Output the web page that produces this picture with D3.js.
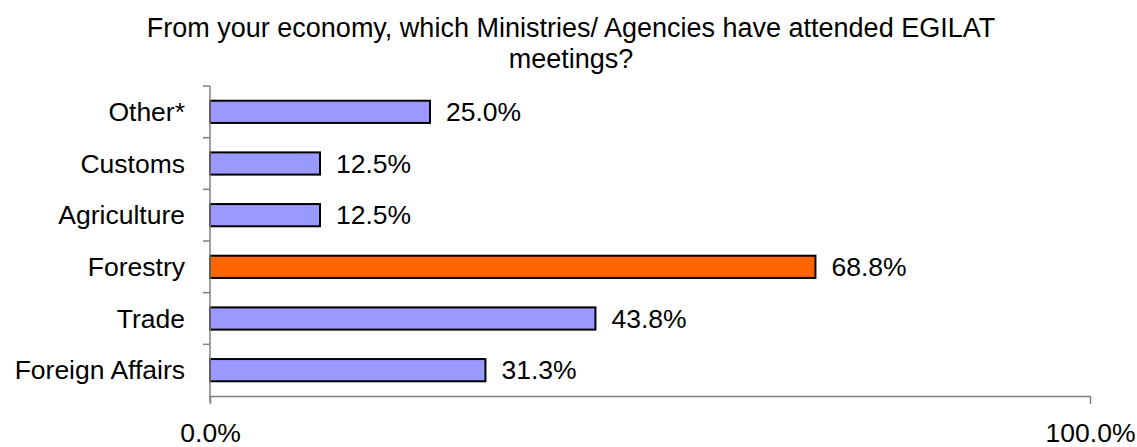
<!DOCTYPE html>
<html>
<head>
<meta charset="utf-8">
<script src="https://cdn.jsdelivr.net/npm/d3@7"></script>
<style>
  body { margin: 0; background: #fff; }
  svg text { font-family: "Liberation Sans", Arial, sans-serif; fill: #000; }
</style>
</head>
<body>
<div id="chart"></div>
<script>
const categories = ["Other*", "Customs", "Agriculture", "Forestry", "Trade", "Foreign Affairs"];
const values = [25.0, 12.5, 12.5, 68.8, 43.8, 31.3];
const highlight = ["Forestry"];
const xTicks = [0, 100];
const titleLines = ["From your economy, which Ministries/ Agencies have attended EGILAT", "meetings?"];

const W = 1137, H = 447;
const margin = {top: 86, right: 47, bottom: 51, left: 210};
const width = W - margin.left - margin.right,
      height = H - margin.top - margin.bottom;
const fontSize = "26.5px";

const svg = d3.select("#chart").append("svg")
    .attr("width", W).attr("height", H);

svg.append("g").selectAll("text")
    .data(titleLines)
    .enter().append("text")
    .attr("x", 571)
    .attr("y", (d, i) => 37 + i * 31)
    .attr("text-anchor", "middle")
    .style("font-size", "27px")
    .text(d => d);

const g = svg.append("g")
    .attr("transform", "translate(" + margin.left + "," + margin.top + ")");

const x = d3.scaleLinear().domain([0, 100]).range([0, width]);
const y = d3.scaleBand().domain(categories).range([0, height]).paddingInner(0.57).paddingOuter(0.285);
const yEdge = d3.scaleLinear().domain([0, categories.length]).range([0, height]);

// bars
g.selectAll("rect.bar")
    .data(categories)
    .enter().append("rect")
    .attr("class", "bar")
    .attr("x", x(0))
    .attr("y", d => y(d))
    .attr("width", (d, i) => x(values[i]) - x(0))
    .attr("height", y.bandwidth())
    .attr("fill", d => highlight.includes(d) ? "#ff6600" : "#9999ff")
    .attr("stroke", "#000")
    .attr("stroke-width", 2);

// value labels
g.selectAll("text.val")
    .data(categories)
    .enter().append("text")
    .attr("class", "val")
    .attr("x", (d, i) => x(values[i]) + 16)
    .attr("y", d => y(d) + y.bandwidth() / 2)
    .attr("dy", "0.35em")
    .style("font-size", fontSize)
    .text((d, i) => values[i].toFixed(1) + "%");

// y axis
const yAxis = g.append("g");
yAxis.append("line")
    .attr("x1", 0).attr("x2", 0).attr("y1", 0).attr("y2", height + 6)
    .attr("stroke", "#808080").attr("stroke-width", 1.5);
yAxis.selectAll("line.tick")
    .data(d3.range(categories.length))
    .enter().append("line")
    .attr("class", "tick")
    .attr("x1", -7).attr("x2", 0)
    .attr("y1", d => yEdge(d)).attr("y2", d => yEdge(d))
    .attr("stroke", "#808080").attr("stroke-width", 1.5);
yAxis.selectAll("text")
    .data(categories)
    .enter().append("text")
    .attr("x", -25)
    .attr("y", d => y(d) + y.bandwidth() / 2)
    .attr("dy", "0.35em")
    .attr("text-anchor", "end")
    .style("font-size", fontSize)
    .text(d => d);

// x axis
const xAxis = g.append("g").attr("transform", "translate(0," + height + ")")
    .call(d3.axisBottom(x).tickValues(xTicks).tickSize(8).tickSizeOuter(0).tickPadding(19)
        .tickFormat(d => d.toFixed(1) + "%"));
xAxis.select(".domain").attr("stroke", "#808080").attr("stroke-width", 1.5);
xAxis.selectAll(".tick line").attr("stroke", "#808080").attr("stroke-width", 1.5);
xAxis.selectAll(".tick text")
    .style("font-size", fontSize)
    .style("font-family", "'Liberation Sans', Arial, sans-serif")
    .attr("fill", "#000");
</script>
</body>
</html>
